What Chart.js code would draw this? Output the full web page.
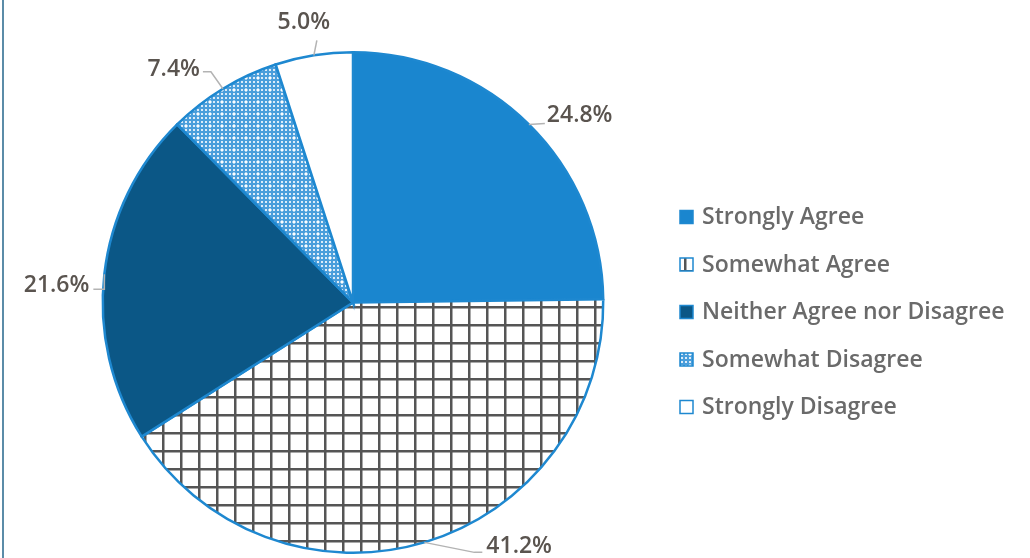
<!DOCTYPE html>
<html>
<head>
<meta charset="utf-8">
<script src="https://cdn.jsdelivr.net/npm/chart.js@4/dist/chart.umd.min.js"></script>
<style>
  html, body { margin: 0; padding: 0; background: #ffffff; }
  #wrap { position: relative; width: 1030px; height: 558px; }
  #edge { position: absolute; left: 2px; top: 0; width: 2px; height: 558px; background: #5b8ca8; }
  canvas { position: absolute; left: 0; top: 0; }
</style>
</head>
<body>
<div id="wrap">
  <canvas id="c" width="1030" height="558"></canvas>
  <div id="edge"></div>
</div>
<script>
// ---- data ----
const categories = ["Strongly Agree", "Somewhat Agree", "Neither Agree nor Disagree", "Somewhat Disagree", "Strongly Disagree"];
const percentages = [24.8, 41.2, 21.6, 7.4, 5.0];
const valueLabels = ["24.8%", "41.2%", "21.6%", "7.4%", "5.0%"];

// ---- styles ----
const BLUE = "#1a86cf";
const DARK = "#0b5786";
const BORDER = "#1e88d0";
const FONT = "'Open Sans', Lato, sans-serif";

function makeGrid() {
  const p = document.createElement("canvas");
  p.width = 18; p.height = 18;
  const g = p.getContext("2d");
  g.fillStyle = "#ffffff"; g.fillRect(0, 0, 18, 18);
  g.fillStyle = "#555555";
  g.fillRect(0, 0, 2.5, 18);
  g.fillRect(0, 0, 18, 2.5);
  return g.createPattern(p, "repeat");
}
function makeDots() {
  const p = document.createElement("canvas");
  p.width = 12; p.height = 12;
  const g = p.getContext("2d");
  g.fillStyle = "#4a9edb"; g.fillRect(0, 0, 12, 12);
  g.fillStyle = "#dcecf9";
  for (let x = 0; x < 12; x += 4) for (let y = 0; y < 12; y += 4) g.fillRect(x + 1, y + 1, 2, 2);
  g.fillStyle = "#ffffff";
  g.fillRect(5, 5, 2, 2); g.fillRect(4, 5.5, 4, 1); g.fillRect(5.5, 4, 1, 4);
  return g.createPattern(p, "repeat");
}
const ctx = document.getElementById("c").getContext("2d");
const fills = [BLUE, makeGrid(), DARK, makeDots(), "#ffffff"];

// label layout relative to the arc's edge point at mid-angle (style only)
const labelLayout = [
  { dx: 18, dy: -9, align: "left",   leader: [[16, -1]] },
  { dx: 62, dy: 4,  align: "left",   leader: [[50, 10], [58, 10]] },
  { dx: -15, dy: 11, align: "right", leader: [[0, 15], [-11, 15]] },
  { dx: -23, dy: -19, align: "right", leader: [[-12, -17], [-20, -17]] },
  { dx: -10, dy: -33, align: "center", leader: [[3, -15]] }
];

const TEXT_FONT = "600 23px " + FONT;

const labelPlugin = {
  id: "pieLabels",
  afterDatasetsDraw(chart) {
    const c = chart.ctx;
    const meta = chart.getDatasetMeta(0);
    c.save();
    meta.data.forEach((arc, i) => {
      const mid = (arc.startAngle + arc.endAngle) / 2;
      const ax = arc.x + Math.cos(mid) * arc.outerRadius;
      const ay = arc.y + Math.sin(mid) * arc.outerRadius;
      const L = labelLayout[i];
      c.strokeStyle = "#b3b3b3";
      c.lineWidth = 1.5;
      c.beginPath();
      c.moveTo(ax, ay);
      L.leader.forEach(p => c.lineTo(ax + p[0], ay + p[1]));
      c.stroke();
      c.fillStyle = "#5a544f";
      c.font = TEXT_FONT;
      c.textAlign = L.align;
      c.textBaseline = "middle";
      c.fillText(valueLabels[i], ax + L.dx, ay + L.dy);
    });
    c.restore();
  }
};

const legendPlugin = {
  id: "customLegend",
  afterDraw(chart) {
    const c = chart.ctx;
    const ds = chart.data.datasets[0];
    c.save();
    chart.data.labels.forEach((lab, i) => {
      const y = 217.5 + i * 47.5;
      c.fillStyle = ds.backgroundColor[i];
      c.fillRect(680, y - 7, 13, 13);
      c.strokeStyle = BORDER;
      c.lineWidth = 1.5;
      c.strokeRect(680, y - 7, 13, 13);
      c.fillStyle = "#6a6a6a";
      c.font = TEXT_FONT;
      c.textAlign = "left";
      c.textBaseline = "middle";
      c.fillText(lab, 702, y);
    });
    c.restore();
  }
};

new Chart(ctx, {
  type: "pie",
  data: {
    labels: categories,
    datasets: [{
      data: percentages,
      backgroundColor: fills,
      borderColor: BORDER,
      borderWidth: 2.5,
      borderJoinStyle: "miter"
    }]
  },
  options: {
    responsive: false,
    animation: false,
    layout: { padding: { left: 100, right: 424, top: 51, bottom: 4 } },
    plugins: {
      legend: { display: false },
      tooltip: { enabled: false }
    }
  },
  plugins: [labelPlugin, legendPlugin]
});
</script>
</body>
</html>
